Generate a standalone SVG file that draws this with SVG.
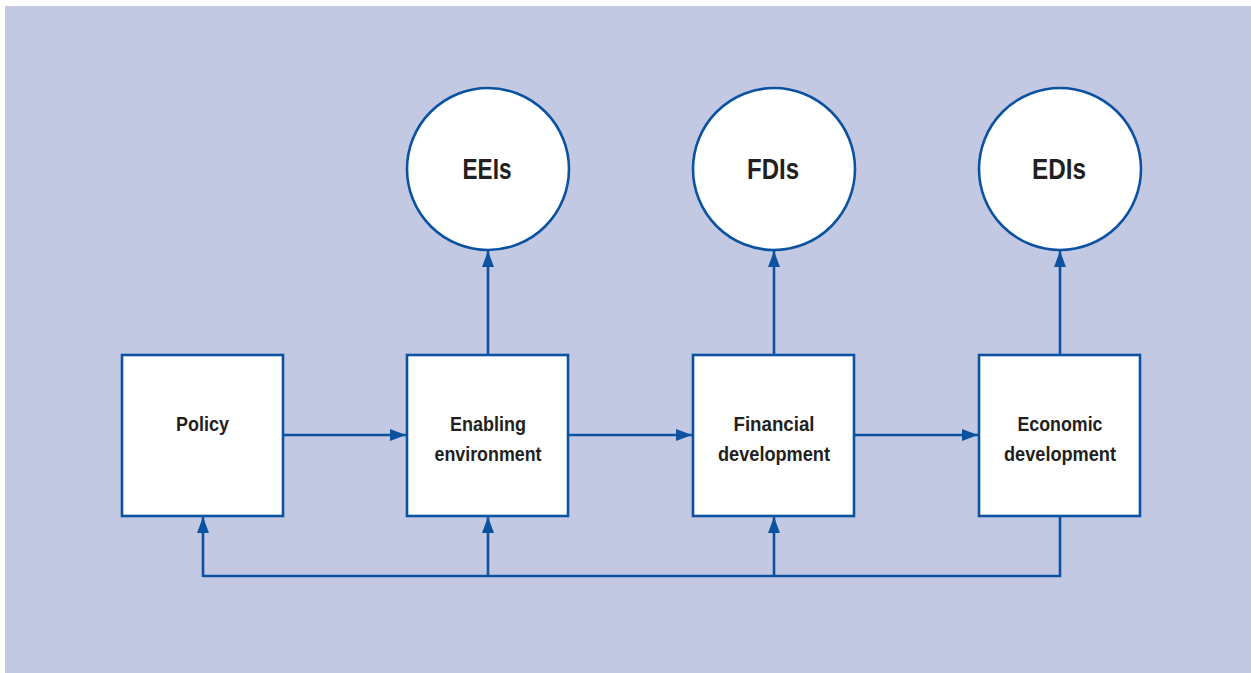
<svg xmlns="http://www.w3.org/2000/svg" width="1251" height="673" viewBox="0 0 1251 673">
<style>
.box{fill:#fff;stroke:#0b53a1;stroke-width:2.6}
.ln{fill:none;stroke:#0b53a1;stroke-width:2.6}
.t{font-family:"Liberation Sans",Arial,sans-serif;font-weight:bold;font-size:20px;fill:#231f20;text-anchor:middle}
.c{font-size:29px}
</style>
<defs>
<marker id="ah" viewBox="0 0 16 12" refX="16" refY="6" markerWidth="16" markerHeight="12" markerUnits="userSpaceOnUse" orient="auto">
<path d="M0,0 L16,6 L0,12 Z" fill="#0b53a1"/>
</marker>
</defs>
<rect x="5" y="6" width="1246" height="667" fill="#c3c8e3"/>
<g id="connectors">
<line class="ln" x1="283" y1="435" x2="406" y2="435" marker-end="url(#ah)"/>
<line class="ln" x1="568" y1="435" x2="692" y2="435" marker-end="url(#ah)"/>
<line class="ln" x1="854" y1="435" x2="978" y2="435" marker-end="url(#ah)"/>
<line class="ln" x1="488" y1="355" x2="488" y2="251" marker-end="url(#ah)"/>
<line class="ln" x1="774" y1="355" x2="774" y2="251" marker-end="url(#ah)"/>
<line class="ln" x1="1060" y1="355" x2="1060" y2="251" marker-end="url(#ah)"/>
<polyline class="ln" points="1060,516 1060,576 203,576"/>
<line class="ln" x1="203" y1="577" x2="203" y2="517" marker-end="url(#ah)"/>
<line class="ln" x1="488" y1="577" x2="488" y2="517" marker-end="url(#ah)"/>
<line class="ln" x1="774" y1="577" x2="774" y2="517" marker-end="url(#ah)"/>
</g>
<g id="policy">
<rect class="box" x="122" y="355" width="161" height="161"/>
<text class="t" x="202.5" y="431" textLength="53" lengthAdjust="spacingAndGlyphs">Policy</text>
</g>
<g id="enabling">
<rect class="box" x="407" y="355" width="161" height="161"/>
<text class="t" x="488" y="431" textLength="76" lengthAdjust="spacingAndGlyphs">Enabling</text>
<text class="t" x="488" y="461" textLength="107" lengthAdjust="spacingAndGlyphs">environment</text>
</g>
<g id="financial">
<rect class="box" x="693" y="355" width="161" height="161"/>
<text class="t" x="774" y="431" textLength="81" lengthAdjust="spacingAndGlyphs">Financial</text>
<text class="t" x="774" y="461" textLength="112" lengthAdjust="spacingAndGlyphs">development</text>
</g>
<g id="economic">
<rect class="box" x="979" y="355" width="161" height="161"/>
<text class="t" x="1060" y="431" textLength="85" lengthAdjust="spacingAndGlyphs">Economic</text>
<text class="t" x="1060" y="461" textLength="112" lengthAdjust="spacingAndGlyphs">development</text>
</g>
<g id="eeis">
<circle class="box" cx="488" cy="169" r="81"/>
<text class="t c" x="487" y="179" textLength="49" lengthAdjust="spacingAndGlyphs">EEIs</text>
</g>
<g id="fdis">
<circle class="box" cx="774" cy="169" r="81"/>
<text class="t c" x="773" y="179" textLength="52" lengthAdjust="spacingAndGlyphs">FDIs</text>
</g>
<g id="edis">
<circle class="box" cx="1060" cy="169" r="81"/>
<text class="t c" x="1059" y="179" textLength="54" lengthAdjust="spacingAndGlyphs">EDIs</text>
</g>
</svg>
